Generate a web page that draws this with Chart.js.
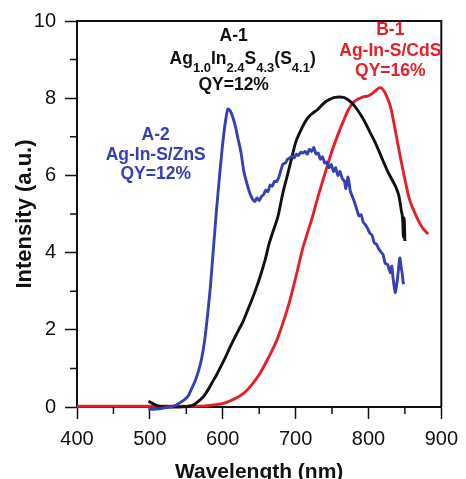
<!DOCTYPE html>
<html>
<head>
<meta charset="utf-8">
<script src="https://cdn.jsdelivr.net/npm/chart.js@4/dist/chart.umd.min.js"></script>
<style>
  html, body { margin: 0; padding: 0; background: #fff; }
  #wrap { width: 466px; height: 479px; }
</style>
</head>
<body>
<div id="wrap"><canvas id="plChart"></canvas></div>
<script>
// A-2  Ag-In-S/ZnS
const waveA2 = [498, 505, 512, 520, 528, 535, 542, 548, 553, 558, 563, 567, 571, 575, 579, 583, 587, 591, 595, 599,
    603, 607, 610, 613, 617, 621, 625, 629, 633, 637, 641, 644, 647, 650, 653, 656, 659, 662, 665, 668,
    671, 674, 677, 680, 683, 686, 689, 692, 695, 698, 701, 704, 707, 710, 713, 716, 719, 722, 725, 728,
    731, 734, 737, 740, 743, 746, 749, 752, 755, 758, 761, 764, 767, 769, 772, 775, 778, 781, 784, 787,
    790, 793, 796, 799, 802, 805, 808, 811, 814, 817, 820, 823, 826, 830, 832, 834, 837, 840, 843, 845, 846, 848];
const intA2 = [-0.05, -0.06, -0.05, -0.02, 0.0, 0.04, 0.12, 0.2, 0.3, 0.5, 0.72, 0.95, 1.25, 1.7, 2.35, 3.1, 4.05, 5.0, 5.85, 6.65,
    7.3, 7.72, 7.68, 7.55, 7.3, 6.95, 6.6, 6.1, 5.8, 5.55, 5.38, 5.32, 5.42, 5.35, 5.45, 5.5, 5.62, 5.58, 5.75, 5.72,
    5.85, 5.84, 5.95, 6.15, 6.3, 6.32, 6.42, 6.45, 6.5, 6.45, 6.55, 6.52, 6.6, 6.58, 6.62, 6.55, 6.68, 6.62, 6.72, 6.55,
    6.58, 6.42, 6.48, 6.32, 6.35, 6.2, 6.28, 6.1, 6.2, 6.0, 6.1, 5.92, 5.85, 5.66, 5.96, 5.6, 5.45, 5.3, 5.12, 4.95,
    4.98, 4.78, 4.72, 4.62, 4.5, 4.45, 4.25, 4.22, 4.1, 4.02, 3.95, 3.72, 3.7, 3.48, 3.65, 3.3, 2.96, 3.35, 3.86, 3.6, 3.5, 3.18];

// A-1  Ag1.0In2.4S4.3(S4.1)
const waveA1 = [498, 503, 508, 513, 520, 530, 540, 550, 556, 562, 568, 574, 580, 586, 592, 598, 604, 610, 616, 622,
    628, 634, 640, 646, 652, 658, 664, 670, 676, 682, 688, 694, 700, 706, 712, 718, 724, 730, 736, 742,
    748, 754, 760, 766, 772, 778, 784, 790, 796, 802, 808, 814, 820, 826, 832, 838, 842, 845, 847, 848, 849, 850];
const intA1 = [0.15, 0.1, 0.05, 0.02, 0.01, 0.0, 0.0, 0.01, 0.03, 0.08, 0.17, 0.28, 0.45, 0.65, 0.85, 1.07, 1.3, 1.55, 1.78, 2.0,
    2.22, 2.5, 2.78, 3.08, 3.42, 3.8, 4.25, 4.6, 4.95, 5.5, 5.95, 6.4, 6.85, 7.12, 7.35, 7.52, 7.62, 7.7, 7.82, 7.92,
    7.98, 8.02, 8.03, 8.02, 7.96, 7.86, 7.72, 7.55, 7.35, 7.12, 6.9, 6.65, 6.38, 6.12, 5.9, 5.68, 5.45, 5.1, 4.85, 4.4, 4.9, 4.3];

// B-1  Ag-In-S/CdS
const waveB1 = [400, 450, 500, 550, 575, 590, 602, 615, 629, 640, 651, 662, 674, 683, 692, 701, 710, 717, 724, 730,
    737, 744, 751, 758, 765, 773, 780, 786, 792, 800, 805, 810, 816, 820, 825, 830, 836, 843, 850, 856,
    862, 868, 875, 882];
const intB1 = [0.02, 0.02, 0.02, 0.02, 0.03, 0.06, 0.1, 0.2, 0.36, 0.58, 0.87, 1.25, 1.72, 2.2, 2.75, 3.42, 4.12, 4.55, 4.98, 5.4,
    5.84, 6.28, 6.69, 7.05, 7.38, 7.72, 7.9, 7.98, 8.03, 8.06, 8.12, 8.2, 8.27, 8.22, 8.05, 7.8, 7.25, 6.55, 5.9, 5.4,
    5.1, 4.85, 4.62, 4.48];

const minorTicksX = [450, 550, 650, 750, 850];
const minorTicksY = [1, 3, 5, 7, 9];

const FONT = "'Liberation Sans', Arial, sans-serif";
const BLUE = '#3540b2';
const RED = '#e5202a';
const INK = '#111';

function pairs(xs, ys) {
    return xs.map((v, i) => ({ x: v, y: ys[i] }));
}

// text blocks next to the curves, anchored in data units
const notes = [
    { at: [615, 9.6], color: INK, lines: ['A-1', null, 'QY=12%'], gaps: [0, 23, 49] },
    { at: [830, 9.77], color: RED, lines: ['B-1', 'Ag-In-S/CdS', 'QY=16%'], gaps: [0, 21, 41] },
    { at: [508, 7.04], color: BLUE, lines: ['A-2', 'Ag-In-S/ZnS', 'QY=12%'], gaps: [0, 20, 39] }
];
const formulaA1 = [['Ag', 0], ['1.0', 1], ['In', 0], ['2.4', 1], ['S', 0], ['4.3', 1], ['(S', 0], ['4.1', 1], [')', 0]];

const bigFont = 'bold 17.5px ' + FONT;
const subFont = 'bold 13px ' + FONT;

function drawFormula(ctx, cx, cy) {
    let total = 0;
    formulaA1.forEach(([t, sub]) => {
        ctx.font = sub ? subFont : bigFont;
        total += ctx.measureText(t).width;
    });
    let px = cx - total / 2;
    ctx.textAlign = 'left';
    formulaA1.forEach(([t, sub]) => {
        ctx.font = sub ? subFont : bigFont;
        ctx.fillText(t, px, sub ? cy + 9 : cy);
        px += ctx.measureText(t).width;
    });
}

const frameAndNotes = {
    id: 'frameAndNotes',
    afterDraw(chart) {
        const { ctx, chartArea: a, scales: { x, y } } = chart;
        ctx.save();
        ctx.strokeStyle = INK;

        // closing edges of the box
        ctx.lineWidth = 2;
        ctx.beginPath();
        ctx.moveTo(a.left, a.top);
        ctx.lineTo(a.right, a.top);
        ctx.lineTo(a.right, a.bottom);
        ctx.stroke();

        // minor ticks
        ctx.lineWidth = 1.5;
        ctx.beginPath();
        minorTicksX.forEach(v => {
            const px = x.getPixelForValue(v);
            ctx.moveTo(px, a.bottom);
            ctx.lineTo(px, a.bottom + 7);
        });
        minorTicksY.forEach(v => {
            const py = y.getPixelForValue(v);
            ctx.moveTo(a.left, py);
            ctx.lineTo(a.left - 7, py);
        });
        ctx.stroke();

        ctx.textBaseline = 'middle';
        notes.forEach(n => {
            const cx = x.getPixelForValue(n.at[0]);
            const cy = y.getPixelForValue(n.at[1]);
            ctx.fillStyle = n.color;
            n.lines.forEach((t, i) => {
                if (t === null) {
                    drawFormula(ctx, cx + 9, cy + n.gaps[i]);
                    return;
                }
                ctx.font = bigFont;
                ctx.textAlign = 'center';
                ctx.fillText(t, cx, cy + n.gaps[i]);
            });
        });
        ctx.restore();
    }
};

new Chart('plChart', {
    type: 'line',
    data: {
        datasets: [{
            label: 'A-2',
            data: pairs(waveA2, intA2),
            borderColor: BLUE,
            tension: 0.2,
            clip: 6
        }, {
            label: 'A-1',
            data: pairs(waveA1, intA1),
            borderColor: INK,
            cubicInterpolationMode: 'monotone',
            clip: 6
        }, {
            label: 'B-1',
            data: pairs(waveB1, intB1),
            borderColor: RED,
            cubicInterpolationMode: 'monotone',
            clip: 6
        }]
    },
    options: {
        responsive: true,
        maintainAspectRatio: false,
        animation: false,
        layout: { padding: { left: 0, right: 19, top: 17, bottom: 0 } },
        elements: {
            point: { radius: 0 },
            line: { borderWidth: 2.9, fill: false }
        },
        plugins: {
            legend: { display: false },
            tooltip: { enabled: false }
        },
        scales: {
            x: {
                type: 'linear',
                min: 400,
                max: 900,
                afterFit: s => { s.height = 72; },
                ticks: { stepSize: 100, color: INK, padding: 8, maxRotation: 0, font: { family: FONT, size: 20 } },
                grid: { drawOnChartArea: false, tickLength: 12, tickWidth: 1.5, tickColor: INK },
                border: { color: INK, width: 2 },
                title: {
                    display: true,
                    text: 'Wavelength (nm)',
                    color: INK,
                    font: { family: FONT, size: 21, weight: 'bold' },
                    padding: { top: 0, bottom: -6 }
                }
            },
            y: {
                min: 0,
                max: 10,
                afterFit: s => { s.width = 77; },
                ticks: { stepSize: 2, color: INK, padding: 9, font: { family: FONT, size: 20 } },
                grid: { drawOnChartArea: false, tickLength: 12, tickWidth: 1.5, tickColor: INK },
                border: { color: INK, width: 2 },
                title: {
                    display: true,
                    text: 'Intensity (a.u.)',
                    color: INK,
                    font: { family: FONT, size: 22, weight: 'bold' },
                    padding: { top: 12, bottom: 0 }
                }
            }
        }
    },
    plugins: [frameAndNotes]
});
</script>
</body>
</html>
